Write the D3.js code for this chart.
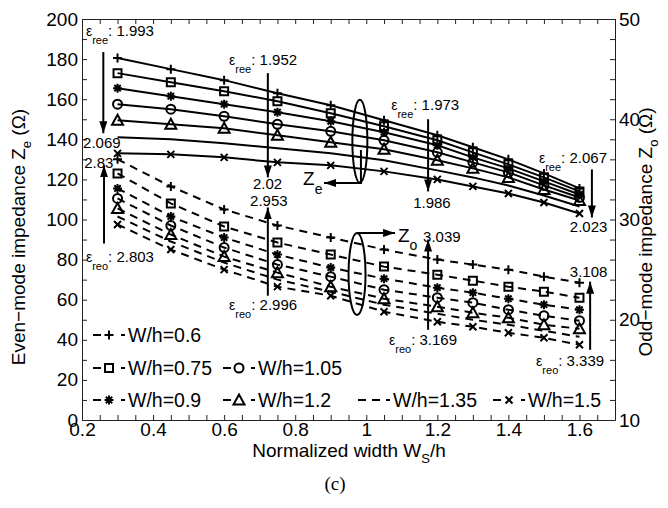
<!DOCTYPE html>
<html>
<head>
<meta charset="utf-8">
<script src="https://cdn.jsdelivr.net/npm/d3@7"></script>
<style>
  body { margin: 0; background: #fff; }
  text { font-family: "Liberation Sans", Arial, sans-serif; fill: #000; }
</style>
</head>
<body>
<script>
// normalized width Ws/h
var widths = [0.3, 0.45, 0.6, 0.75, 0.9, 1.05, 1.2, 1.3, 1.4, 1.5, 1.6];
var ratios = ["0.6", "0.75", "0.9", "1.05", "1.2", "1.35", "1.5"];
var markerTypes = ["plus", "square", "star", "circle", "triangle", "none", "cross"];

// even-mode impedance Ze (left axis, ohm)
var zeW060 = [180.5, 175, 169.5, 163, 157, 149.5, 142, 136, 130, 123, 115.5];
var zeW075 = [173, 168.5, 164, 159, 153, 146.5, 139.5, 133.5, 127.5, 121, 114];
var zeW090 = [165.5, 161.5, 157.5, 153.5, 149, 143.5, 137, 131, 125.5, 119, 112.5];
var zeW105 = [157.5, 155, 151.5, 147.5, 144, 139.5, 133.5, 128.5, 123.5, 117, 111];
var zeW120 = [149.5, 147.5, 145.5, 142, 138.5, 135, 129.5, 125.5, 121, 115, 109.5];
var zeW135 = [141, 140, 138, 135.5, 133, 129.5, 124.5, 121, 117, 112, 106.5];
var zeW150 = [133, 132.5, 131, 128.5, 127, 124, 120, 116.5, 113, 108.5, 103];

// odd-mode impedance Zo (right axis, ohm)
var zoW060 = [36.0, 33.3, 31.0, 29.4, 28.2, 27.0, 26.0, 25.5, 25.0, 24.3, 23.7];
var zoW075 = [34.6, 31.6, 29.3, 27.7, 26.5, 25.3, 24.5, 23.9, 23.3, 22.8, 22.2];
var zoW090 = [33.1, 30.3, 28.2, 26.5, 25.2, 24.1, 23.2, 22.7, 22.1, 21.5, 21.0];
var zoW105 = [32.1, 29.4, 27.2, 25.5, 24.3, 23.0, 22.2, 21.7, 21.0, 20.4, 19.9];
var zoW120 = [31.1, 28.5, 26.3, 24.7, 23.3, 22.1, 21.3, 20.7, 20.2, 19.5, 19.1];
var zoW135 = [30.3, 27.8, 25.7, 24.0, 22.8, 21.5, 20.6, 20.0, 19.5, 18.9, 18.3];
var zoW150 = [29.5, 27.0, 25.0, 23.3, 22.4, 20.8, 19.8, 19.3, 18.7, 18.2, 17.5];

var evenSeries = [zeW060, zeW075, zeW090, zeW105, zeW120, zeW135, zeW150];
var oddSeries = [zoW060, zoW075, zoW090, zoW105, zoW120, zoW135, zoW150];

// effective permittivity notes: [x, y(left axis), subscript, value]
var epsNotes = [
    [0.211, 191.5, "ree", "1.993"],
    [0.614, 177.1, "ree", "1.952"],
    [1.07, 154.6, "ree", "1.973"],
    [1.486, 128.2, "ree", "2.067"],
    [0.211, 78.8, "reo", "2.803"],
    [0.614, 54.9, "reo", "2.996"],
    [1.064, 37.4, "reo", "3.169"],
    [1.478, 26.9, "reo", "3.339"]
];
var valueNotes = [
    [0.203, 135.7, "2.069"], [0.206, 125.7, "2.83"],
    [0.681, 115.2, "2.02"], [0.673, 106.5, "2.953"],
    [1.132, 105.7, "1.986"], [1.573, 93.8, "2.023"],
    [1.16, 88.8, "3.039"], [1.573, 71.3, "3.108"]
];
// arrows: [x, from y, to y] (left axis units)
var arrows = [
    [0.26, 183.5, 143], [0.262, 88, 127], [0.723, 173, 121], [0.723, 62, 106],
    [1.174, 150, 114], [1.635, 125, 101], [1.174, 45, 90], [1.63, 35, 69]
];

var W = 668, H = 508;
var margin = { top: 19, right: 53, bottom: 88, left: 82 };
var svg = d3.select("body").append("svg").attr("width", W).attr("height", H);

var x = d3.scaleLinear().domain([0.2, 1.7]).range([margin.left, W - margin.right]);
var yL = d3.scaleLinear().domain([0, 200]).range([H - margin.bottom, margin.top]);
var yR = d3.scaleLinear().domain([10, 50]).range([H - margin.bottom, margin.top]);

var x0 = x.range()[0], x1 = x.range()[1], yb = yL.range()[0], yt = yL.range()[1];

// axes
var xTicks = d3.range(4, 35).map(function (i) { return +(i * 0.05).toFixed(2); });
var fmtX = function (d) {
    var k = Math.round(d * 100);
    return (k % 20 === 0 && d <= 1.6) ? d3.format("~g")(d) : "";
};
function styleAxis(g) {
    g.select(".domain").attr("stroke", "#222").attr("stroke-width", 1);
    g.selectAll(".tick line").attr("stroke", "#222");
    g.selectAll(".tick text").attr("font-size", 19).attr("fill", "#000")
        .style("font-family", "'Liberation Sans', Arial, sans-serif");
}
svg.append("g").attr("transform", "translate(0," + yb + ")")
    .call(d3.axisBottom(x).tickValues(xTicks).tickFormat(fmtX).tickSize(-5).tickSizeOuter(0).tickPadding(2))
    .call(styleAxis);
svg.append("g").attr("transform", "translate(0," + yt + ")")
    .call(d3.axisTop(x).tickValues(xTicks).tickFormat("").tickSize(-5).tickSizeOuter(0))
    .call(styleAxis);
svg.append("g").attr("transform", "translate(" + x0 + ",0)")
    .call(d3.axisLeft(yL).tickValues(d3.range(0, 201, 10))
        .tickFormat(function (d) { return d % 20 === 0 ? d : ""; })
        .tickSize(-5).tickSizeOuter(0).tickPadding(4))
    .call(styleAxis);
svg.append("g").attr("transform", "translate(" + x1 + ",0)")
    .call(d3.axisRight(yR).tickValues(d3.range(10, 51, 2))
        .tickFormat(function (d) { return d % 10 === 0 ? d : ""; })
        .tickSize(-5).tickSizeOuter(0).tickPadding(4))
    .call(styleAxis);

// axis titles
var xt = svg.append("text").attr("x", 349).attr("y", 457).attr("text-anchor", "middle").attr("font-size", 19);
xt.append("tspan").text("Normalized width W");
xt.append("tspan").attr("dy", 6).attr("font-size", 13).text("S");
xt.append("tspan").attr("dy", -6).text("/h");

var lt = svg.append("text").attr("transform", "translate(25,237) rotate(-90)")
    .attr("text-anchor", "middle").attr("font-size", 19);
lt.append("tspan").text("Even\u2212mode impedance Z");
lt.append("tspan").attr("dy", 6).attr("font-size", 13).text("e");
lt.append("tspan").attr("dy", -6).text(" (\u03A9)");

var rt = svg.append("text").attr("transform", "translate(652,232) rotate(-90)")
    .attr("text-anchor", "middle").attr("font-size", 19);
rt.append("tspan").text("Odd\u2212mode impedance Z");
rt.append("tspan").attr("dy", 6).attr("font-size", 13).text("o");
rt.append("tspan").attr("dy", -6).text(" (\u03A9)");

svg.append("text").attr("x", 335).attr("y", 490).attr("text-anchor", "middle")
    .attr("font-size", 19).style("font-family", "'Liberation Serif', 'Times New Roman', serif")
    .text("(c)");

// markers
function markerPath(type) {
    switch (type) {
        case "plus": return "M-4.5,0H4.5M0,-4.5V4.5";
        case "cross": return "M-3.5,-3.5L3.5,3.5M-3.5,3.5L3.5,-3.5";
        case "star": return "M-4.5,0H4.5M0,-4.5V4.5M-3.2,-3.2L3.2,3.2M-3.2,3.2L3.2,-3.2";
        case "square": return "M-4,-4H4V4H-4Z";
        case "triangle": return "M0,-5.5L5.5,4.5H-5.5Z";
        case "circle": return "M4.5,0A4.5,4.5 0 1 1 -4.5,0A4.5,4.5 0 1 1 4.5,0Z";
        default: return "";
    }
}

function drawSeries(values, yScale, dashed, type) {
    var pts = widths.map(function (w, i) { return [w, values[i]]; });
    var line = d3.line().x(function (d) { return x(d[0]); }).y(function (d) { return yScale(d[1]); });
    svg.append("path").datum(pts).attr("d", line)
        .attr("fill", "none").attr("stroke", "#000").attr("stroke-width", 2)
        .attr("stroke-dasharray", dashed ? "8,6" : null);
    if (type !== "none") {
        svg.append("g").selectAll("path").data(pts).enter().append("path")
            .attr("transform", function (d) { return "translate(" + x(d[0]) + "," + yScale(d[1]) + ")"; })
            .attr("d", markerPath(type))
            .attr("fill", "none").attr("stroke", "#000").attr("stroke-width", 2);
    }
}
evenSeries.forEach(function (s, i) { drawSeries(s, yL, false, markerTypes[i]); });
oddSeries.forEach(function (s, i) { drawSeries(s, yR, true, markerTypes[i]); });

// arrows
var defs = svg.append("defs");
defs.append("marker").attr("id", "head").attr("viewBox", "0 0 12 8")
    .attr("refX", 12).attr("refY", 4).attr("markerWidth", 12).attr("markerHeight", 8)
    .attr("markerUnits", "userSpaceOnUse").attr("orient", "auto")
    .append("path").attr("d", "M0,0L12,4L0,8Z").attr("fill", "#000");

arrows.forEach(function (a) {
    svg.append("line").attr("x1", x(a[0])).attr("x2", x(a[0]))
        .attr("y1", yL(a[1])).attr("y2", yL(a[2]))
        .attr("stroke", "#000").attr("stroke-width", 2).attr("marker-end", "url(#head)");
});

// ellipses with Ze / Zo pointers
svg.append("ellipse").attr("cx", x(0.982)).attr("cy", yL(139)).attr("rx", 7.5).attr("ry", 41.5)
    .attr("fill", "none").attr("stroke", "#000").attr("stroke-width", 2);
svg.append("ellipse").attr("cx", x(0.974)).attr("cy", yL(72.8)).attr("rx", 8.5).attr("ry", 41)
    .attr("fill", "none").attr("stroke", "#000").attr("stroke-width", 2);
svg.append("path")
    .attr("d", d3.line()([[x(0.985), yL(134.7)], [x(0.985), yL(118.2)], [x(0.881), yL(118.2)]]))
    .attr("fill", "none").attr("stroke", "#000").attr("stroke-width", 2).attr("marker-end", "url(#head)");
svg.append("path")
    .attr("d", d3.line()([[x(0.974), yL(93.3)], [x(1.081), yL(93.3)]]))
    .attr("fill", "none").attr("stroke", "#000").attr("stroke-width", 2).attr("marker-end", "url(#head)");

var ze = svg.append("text").attr("x", x(0.822)).attr("y", yL(117.2)).attr("font-size", 19);
ze.append("tspan").text("Z");
ze.append("tspan").attr("dy", 9).attr("font-size", 14).text("e");
var zo = svg.append("text").attr("x", x(1.089)).attr("y", yL(88.8)).attr("font-size", 19);
zo.append("tspan").text("Z");
zo.append("tspan").attr("dy", 8).attr("font-size", 14).text("o");

// permittivity notes
epsNotes.forEach(function (n) {
    var t = svg.append("text").attr("x", x(n[0])).attr("y", yL(n[1])).attr("font-size", 14);
    t.append("tspan").text("\u03B5");
    t.append("tspan").attr("dy", 8).attr("font-size", 11).text(n[2]);
    t.append("tspan").attr("dy", -8).attr("font-size", 15).text(": " + n[3]);
});
valueNotes.forEach(function (n) {
    svg.append("text").attr("x", x(n[0])).attr("y", yL(n[1])).attr("font-size", 15).text(n[2]);
});

// legend
var legendRows = [
    [0, 93, 335], [1, 93, 368], [3, 223, 368], [2, 93, 400], [4, 223, 400], [5, 358, 400], [6, 493, 400]
];
legendRows.forEach(function (r) {
    var i = r[0], lx = r[1], ly = r[2];
    var g = svg.append("g").attr("transform", "translate(" + lx + "," + ly + ")");
    g.append("line").attr("x1", 0).attr("x2", 32).attr("y1", 0).attr("y2", 0)
        .attr("stroke", "#000").attr("stroke-width", 2).attr("stroke-dasharray", "8,6");
    if (markerTypes[i] !== "none") {
        g.append("rect").attr("x", 10).attr("y", -3).attr("width", 12).attr("height", 6).attr("fill", "#fff");
        g.append("path").attr("transform", "translate(16,0)").attr("d", markerPath(markerTypes[i]))
            .attr("fill", "none").attr("stroke", "#000").attr("stroke-width", 2);
    }
    g.append("text").attr("x", 35).attr("y", 7).attr("font-size", 19.5).text("W/h=" + ratios[i]);
});
</script>
</body>
</html>
